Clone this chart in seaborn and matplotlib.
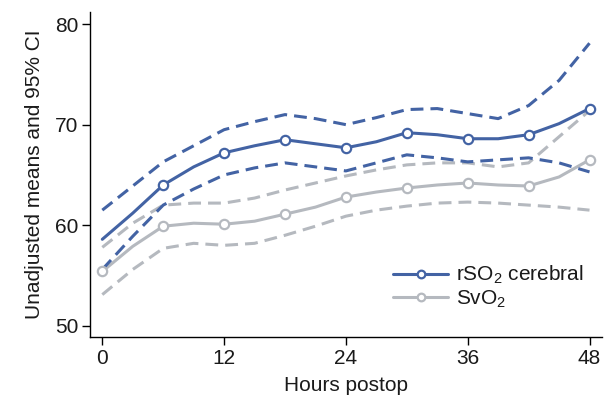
import matplotlib
matplotlib.use("Agg")
import matplotlib.pyplot as plt
import seaborn as sns
import pandas as pd
from matplotlib.lines import Line2D

hours = [0, 3, 6, 9, 12, 15, 18, 21, 24, 27, 30, 33, 36, 39, 42, 45, 48]
rso2_mean = [58.6, 61.2, 64.0, 65.8, 67.2, 67.9, 68.5, 68.1, 67.7, 68.3, 69.2, 69.0, 68.6, 68.6, 69.0, 70.1, 71.6]
rso2_upper = [61.5, 63.9, 66.3, 67.9, 69.5, 70.3, 71.0, 70.6, 70.0, 70.7, 71.5, 71.6, 71.1, 70.6, 71.9, 74.4, 78.1]
rso2_lower = [55.6, 58.9, 62.0, 63.6, 65.0, 65.7, 66.2, 65.8, 65.4, 66.2, 67.0, 66.7, 66.3, 66.5, 66.7, 66.2, 65.3]
svo2_mean = [55.4, 57.9, 59.9, 60.2, 60.1, 60.4, 61.1, 61.8, 62.8, 63.3, 63.7, 64.0, 64.2, 64.0, 63.9, 64.8, 66.5]
svo2_upper = [57.8, 60.2, 62.0, 62.2, 62.2, 62.7, 63.5, 64.2, 64.9, 65.5, 66.0, 66.2, 66.2, 65.8, 66.2, 68.8, 71.4]
svo2_lower = [53.1, 55.6, 57.7, 58.2, 58.0, 58.2, 59.0, 59.9, 60.9, 61.5, 61.9, 62.2, 62.3, 62.2, 62.0, 61.8, 61.5]

rso2_marker_hours = [6, 12, 18, 24, 30, 36, 42, 48]
svo2_marker_hours = [0, 6, 12, 18, 24, 30, 36, 42, 48]

x_ticks = [0, 12, 24, 36, 48]
y_ticks = [50, 60, 70, 80]

BLUE = "#4363a4"
GREY = "#b5b9bf"
TXT = "#1a1a1a"

sns.set_style("white")
plt.rcParams["font.family"] = ["Liberation Sans", "DejaVu Sans"]
plt.rcParams["mathtext.fontset"] = "custom"
plt.rcParams["mathtext.rm"] = "Liberation Sans"
plt.rcParams["mathtext.it"] = "Liberation Sans:italic"

fig = plt.figure(figsize=(6.09, 4.01), dpi=100)
ax = fig.add_axes([0.148, 0.160, 0.840, 0.810])

df = pd.DataFrame({"hours": hours,
                   "rso2_mean": rso2_mean, "rso2_upper": rso2_upper, "rso2_lower": rso2_lower,
                   "svo2_mean": svo2_mean, "svo2_upper": svo2_upper, "svo2_lower": svo2_lower})

lw = 2.2
dash = (4.2, 2.3)

for col in ["svo2_upper", "svo2_lower"]:
    sns.lineplot(data=df, x="hours", y=col, ax=ax, color=GREY, lw=lw, zorder=2).lines[-1].set_dashes(dash)
sns.lineplot(data=df, x="hours", y="svo2_mean", ax=ax, color=GREY, lw=lw, zorder=3)

for col in ["rso2_upper", "rso2_lower"]:
    sns.lineplot(data=df, x="hours", y=col, ax=ax, color=BLUE, lw=lw, zorder=4).lines[-1].set_dashes(dash)
sns.lineplot(data=df, x="hours", y="rso2_mean", ax=ax, color=BLUE, lw=lw, zorder=5)

svo2_m = df[df["hours"].isin(svo2_marker_hours)]
rso2_m = df[df["hours"].isin(rso2_marker_hours)]
sns.scatterplot(data=svo2_m, x="hours", y="svo2_mean", ax=ax, marker="o", s=45,
                facecolor="white", edgecolor=GREY, linewidth=1.6, zorder=6)
sns.scatterplot(data=rso2_m, x="hours", y="rso2_mean", ax=ax, marker="o", s=45,
                facecolor="white", edgecolor=BLUE, linewidth=1.6, zorder=7)

ax.set_xlim(-1.2, 49.2)
ax.set_ylim(48.9, 81.2)
ax.set_xticks(x_ticks)
ax.set_yticks(y_ticks)
ax.tick_params(axis="both", direction="out", length=5.5, width=1, colors="black",
               labelcolor=TXT, labelsize=15, left=True, bottom=True, pad=3)
for s in ["top", "right"]:
    ax.spines[s].set_visible(False)
for s in ["left", "bottom"]:
    ax.spines[s].set_color("black")
    ax.spines[s].set_linewidth(1)

ax.set_xlabel("Hours postop", fontsize=15, color=TXT, labelpad=6)
ax.set_ylabel("Unadjusted means and 95% CI", fontsize=15, color=TXT, labelpad=8)

handles = [Line2D([0], [0], color=BLUE, lw=lw, marker="o", markersize=5.5,
                  markerfacecolor="white", markeredgecolor=BLUE, markeredgewidth=1.6),
           Line2D([0], [0], color=GREY, lw=lw, marker="o", markersize=5.5,
                  markerfacecolor="white", markeredgecolor=GREY, markeredgewidth=1.6)]
labels = ["rSO$_2$ cerebral", "SvO$_2$"]
leg = ax.legend(handles, labels, loc="upper left", bbox_to_anchor=(0.576, 0.25), frameon=False,
                fontsize=15, handlelength=2.65, handletextpad=0.35, labelspacing=0.12, borderaxespad=0)
for t in leg.get_texts():
    t.set_color(TXT)

fig.savefig("out.png", dpi=100)
